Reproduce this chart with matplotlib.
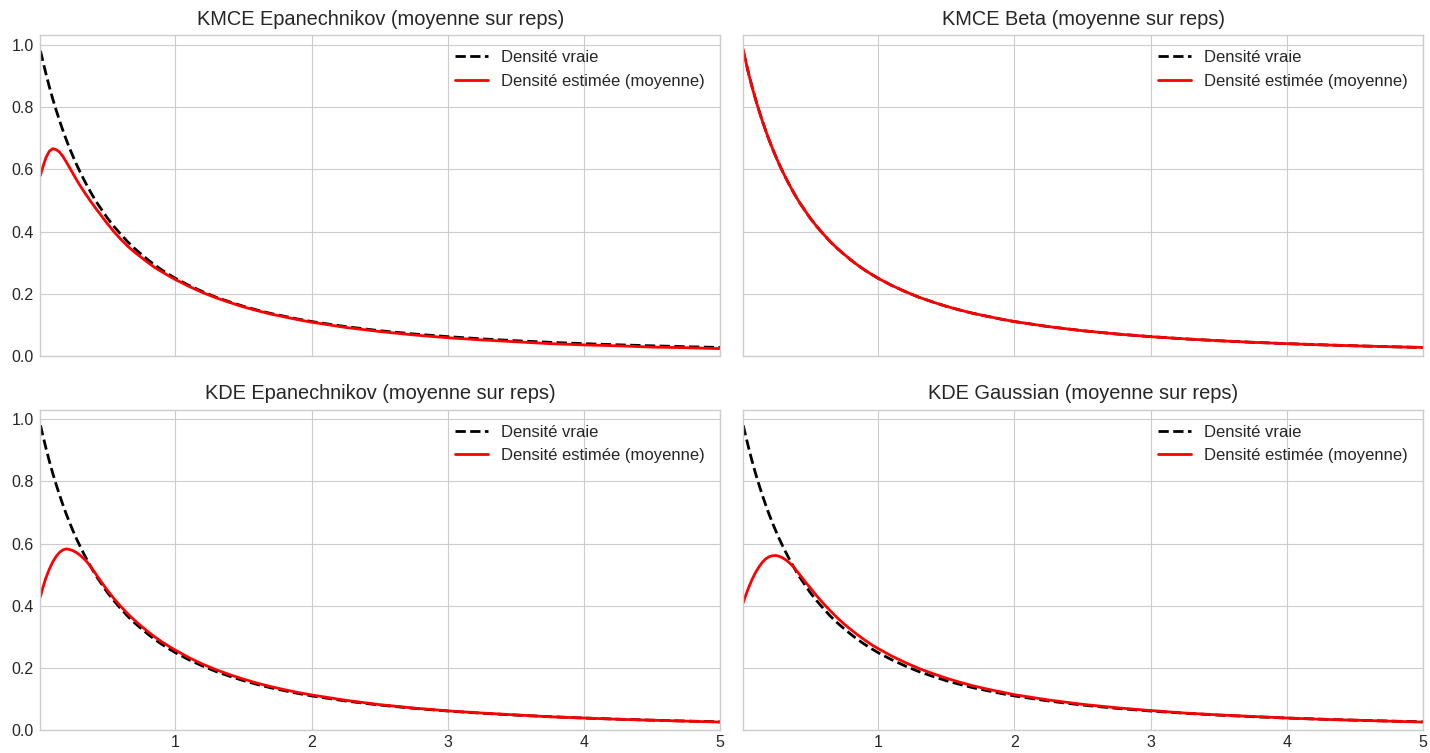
import matplotlib
matplotlib.use("Agg")
import matplotlib.pyplot as plt

plt.style.use("seaborn-v0_8-whitegrid")
plt.rcParams["font.family"] = ["Liberation Sans", "DejaVu Sans"]

# Evaluation grid (finer near the origin)
x_grid = [0.01, 0.025, 0.05, 0.075, 0.10, 0.125, 0.15, 0.175, 0.20, 0.225,
          0.25, 0.275, 0.30, 0.325, 0.35, 0.375, 0.40, 0.425, 0.45, 0.475,
          0.50, 0.55, 0.60, 0.65, 0.70, 0.75, 0.80, 0.85, 0.90, 0.95,
          1.00, 1.10, 1.20, 1.30, 1.40, 1.50, 1.60, 1.70, 1.80, 1.90,
          2.00, 2.25, 2.50, 2.75, 3.00, 3.25, 3.50, 3.75, 4.00, 4.25,
          4.50, 4.75, 5.00]

# True density
true_density = [0.980, 0.952, 0.907, 0.865, 0.826, 0.790, 0.756, 0.724, 0.694, 0.666,
                0.640, 0.615, 0.592, 0.570, 0.549, 0.529, 0.510, 0.492, 0.476, 0.460,
                0.444, 0.416, 0.391, 0.367, 0.346, 0.327, 0.309, 0.292, 0.277, 0.263,
                0.250, 0.227, 0.207, 0.189, 0.174, 0.160, 0.148, 0.137, 0.128, 0.119,
                0.111, 0.0947, 0.0816, 0.0711, 0.0625, 0.0554, 0.0494, 0.0443, 0.0400, 0.0363,
                0.0331, 0.0302, 0.0278]

# Mean estimated densities over replications
kmce_epan = [0.580, 0.604, 0.637, 0.658, 0.666, 0.663, 0.655, 0.641, 0.623, 0.604,
             0.585, 0.566, 0.548, 0.531, 0.515, 0.499, 0.484, 0.469, 0.455, 0.440,
             0.426, 0.399, 0.375, 0.353, 0.334, 0.317, 0.300, 0.284, 0.271, 0.258,
             0.246, 0.224, 0.204, 0.187, 0.172, 0.158, 0.146, 0.135, 0.126, 0.117,
             0.109, 0.092, 0.079, 0.068, 0.059, 0.052, 0.046, 0.040, 0.036, 0.033,
             0.029, 0.027, 0.024]

kmce_beta = [0.985, 0.953, 0.906, 0.864, 0.825, 0.789, 0.755, 0.724, 0.694, 0.666,
             0.640, 0.615, 0.592, 0.570, 0.549, 0.529, 0.510, 0.492, 0.476, 0.460,
             0.444, 0.416, 0.391, 0.367, 0.346, 0.327, 0.309, 0.292, 0.277, 0.263,
             0.250, 0.227, 0.207, 0.189, 0.174, 0.160, 0.148, 0.137, 0.128, 0.119,
             0.111, 0.0947, 0.0816, 0.0711, 0.0625, 0.0554, 0.0494, 0.0443, 0.0400, 0.0363,
             0.0331, 0.0302, 0.0278]

kde_epan = [0.430, 0.455, 0.490, 0.518, 0.541, 0.559, 0.572, 0.580, 0.583, 0.581,
            0.577, 0.571, 0.563, 0.553, 0.542, 0.528, 0.513, 0.497, 0.481, 0.466,
            0.451, 0.423, 0.398, 0.375, 0.354, 0.335, 0.317, 0.300, 0.285, 0.271,
            0.258, 0.234, 0.213, 0.195, 0.179, 0.165, 0.152, 0.141, 0.131, 0.122,
            0.114, 0.097, 0.083, 0.072, 0.063, 0.056, 0.050, 0.044, 0.040, 0.036,
            0.033, 0.030, 0.027]

kde_gauss = [0.410, 0.430, 0.459, 0.485, 0.507, 0.525, 0.540, 0.551, 0.558, 0.561,
             0.562, 0.559, 0.554, 0.547, 0.538, 0.527, 0.514, 0.500, 0.486, 0.472,
             0.459, 0.432, 0.407, 0.384, 0.362, 0.342, 0.324, 0.307, 0.291, 0.276,
             0.263, 0.239, 0.218, 0.199, 0.183, 0.168, 0.155, 0.143, 0.133, 0.124,
             0.115, 0.098, 0.084, 0.073, 0.064, 0.056, 0.050, 0.045, 0.040, 0.036,
             0.033, 0.030, 0.027]

titles = ["KMCE Epanechnikov (moyenne sur reps)", "KMCE Beta (moyenne sur reps)",
          "KDE Epanechnikov (moyenne sur reps)", "KDE Gaussian (moyenne sur reps)"]
estimates = [kmce_epan, kmce_beta, kde_epan, kde_gauss]

fig, axes = plt.subplots(2, 2, figsize=(14.3, 7.53), dpi=100, sharex=True, sharey=True)
fig.subplots_adjust(left=0.0283, right=0.9951, top=0.9531, bottom=0.0299,
                    wspace=0.0338, hspace=0.167)

for ax, title, est in zip(axes.flat, titles, estimates):
    ax.plot(x_grid, true_density, "k--", lw=2, label="Densité vraie")
    ax.plot(x_grid, est, color="red", lw=2, label="Densité estimée (moyenne)")
    ax.set_title(title, fontsize=14.4, color="0.15", pad=7.5)
    ax.legend(loc="upper right", fontsize=12)
    ax.tick_params(labelsize=11.5)
    ax.tick_params(axis="y", pad=5)

axes[0, 0].set_xlim(x_grid[0], x_grid[-1])
axes[0, 0].set_ylim(0, 1.03)

fig.savefig("out.png", dpi=100)
